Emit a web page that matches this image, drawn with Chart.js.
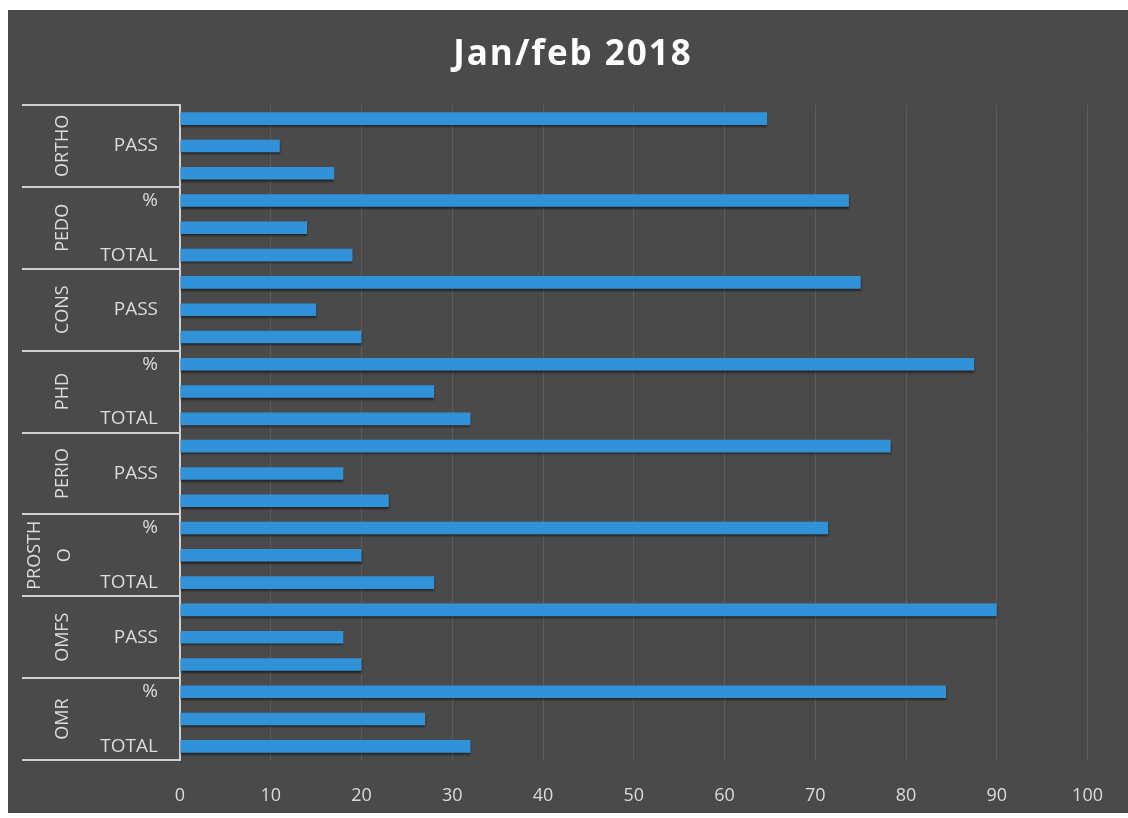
<!DOCTYPE html>
<html>
<head>
<meta charset="utf-8">
<script src="https://cdn.jsdelivr.net/npm/chart.js@4.4.1/dist/chart.umd.min.js"></script>
<style>
  html, body { margin: 0; padding: 0; background: #ffffff; width: 1128px; height: 818px; overflow: hidden; }
  #wrap { position: absolute; left: 8px; top: 10px; width: 1120px; height: 803px; background: #4b4a4a; }
  canvas { display: block; }
</style>
</head>
<body>
<div id="wrap"><canvas id="c" width="1120" height="803"></canvas></div>
<script>
// ---- data ----
const groups = ['ORTHO', 'PEDO', 'CONS', 'PHD', 'PERIO', 'PROSTHO', 'OMFS', 'OMR'];
const groupDisplay = [['ORTHO'], ['PEDO'], ['CONS'], ['PHD'], ['PERIO'], ['PROSTH', 'O'], ['OMFS'], ['OMR']];
const measures = ['%', 'PASS', 'TOTAL'];
const pctValues = [64.7, 73.7, 75, 87.5, 78.3, 71.4, 90, 84.4];
const passValues = [11, 14, 15, 28, 18, 20, 18, 27];
const totalValues = [17, 19, 20, 32, 23, 28, 20, 32];
const xMin = 0, xMax = 100, xStep = 10;
const titleText = 'Jan/feb 2018';

// build category rows (top to bottom)
const rowLabels = [];
const rowValues = [];
groups.forEach((g, i) => {
  const vals = [pctValues[i], passValues[i], totalValues[i]];
  measures.forEach((m, j) => { rowLabels.push(m); rowValues.push(vals[j]); });
});

const lineColor = '#cfcfcf';
const textColor = '#dcdcdc';
const fontFamily = '"Open Sans", "DejaVu Sans", sans-serif';

const groupPlugin = {
  id: 'groupPlugin',
  beforeDatasetsDraw(chart) {
    const ctx = chart.ctx;
    ctx.save();
    ctx.shadowColor = 'rgba(0,0,0,0.5)';
    ctx.shadowOffsetY = 2;
    ctx.shadowBlur = 2;
  },
  afterDatasetsDraw(chart) { chart.ctx.restore(); },
  afterDraw(chart) {
    const ctx = chart.ctx;
    const y = chart.scales.y;
    const area = chart.chartArea;
    const n = rowLabels.length;
    const rowH = (area.bottom - area.top) / n;
    const leftX = 14;
    ctx.save();
    // title
    ctx.fillStyle = '#ffffff';
    ctx.font = 'bold 35px ' + fontFamily;
    ctx.textAlign = 'center';
    ctx.textBaseline = 'alphabetic';
    if ('letterSpacing' in ctx) ctx.letterSpacing = '2px';
    ctx.fillText(titleText, 565, 55);
    if ('letterSpacing' in ctx) ctx.letterSpacing = '0px';
    // group separator lines
    ctx.strokeStyle = lineColor;
    ctx.lineWidth = 2;
    for (let k = 0; k <= groups.length; k++) {
      const yy = Math.round(area.top + k * 3 * rowH);
      ctx.beginPath();
      ctx.moveTo(leftX, yy);
      ctx.lineTo(area.left, yy);
      ctx.stroke();
    }
    // group names, rotated
    ctx.fillStyle = textColor;
    ctx.font = '18px ' + fontFamily;
    ctx.textAlign = 'center';
    ctx.textBaseline = 'middle';
    groups.forEach((g, i) => {
      const cy = (y.getPixelForValue(i * 3) + y.getPixelForValue(i * 3 + 2)) / 2;
      const lines = groupDisplay[i];
      const xs = lines.length === 1 ? [55] : [27, 57];
      lines.forEach((t, li) => {
        ctx.save();
        ctx.translate(xs[li], cy);
        ctx.rotate(-Math.PI / 2);
        ctx.fillText(t, 0, 0);
        ctx.restore();
      });
    });
    ctx.restore();
  }
};

new Chart(document.getElementById('c'), {
  type: 'bar',
  data: {
    labels: rowLabels,
    datasets: [{
      data: rowValues,
      backgroundColor: '#3292d8',
      borderWidth: 0,
      categoryPercentage: 1.0,
      barPercentage: 0.46
    }]
  },
  options: {
    indexAxis: 'y',
    responsive: false,
    animation: false,
    devicePixelRatio: 1,
    layout: { padding: { left: 0, right: 39, top: 95, bottom: 0 } },
    plugins: {
      legend: { display: false },
      tooltip: { enabled: false },
      title: { display: false }
    },
    scales: {
      x: {
        min: xMin, max: xMax,
        border: { display: false },
        grid: { color: 'rgba(255,255,255,0.10)', lineWidth: 1, drawTicks: false },
        ticks: { stepSize: xStep, color: textColor, padding: 25, font: { family: fontFamily, size: 18 } },
        afterFit(scale) { scale.height = 53; }
      },
      y: {
        border: { display: true, color: lineColor, width: 2 },
        grid: { display: false, drawTicks: false },
        ticks: {
          autoSkip: false,
          color: textColor,
          padding: 22,
          font: { family: fontFamily, size: 19 },
          callback: function (v, i) { return i % 2 === 1 ? this.getLabelForValue(v) : ''; }
        },
        afterFit(scale) { scale.width = 172; }
      }
    }
  },
  plugins: [groupPlugin]
});
</script>
</body>
</html>
